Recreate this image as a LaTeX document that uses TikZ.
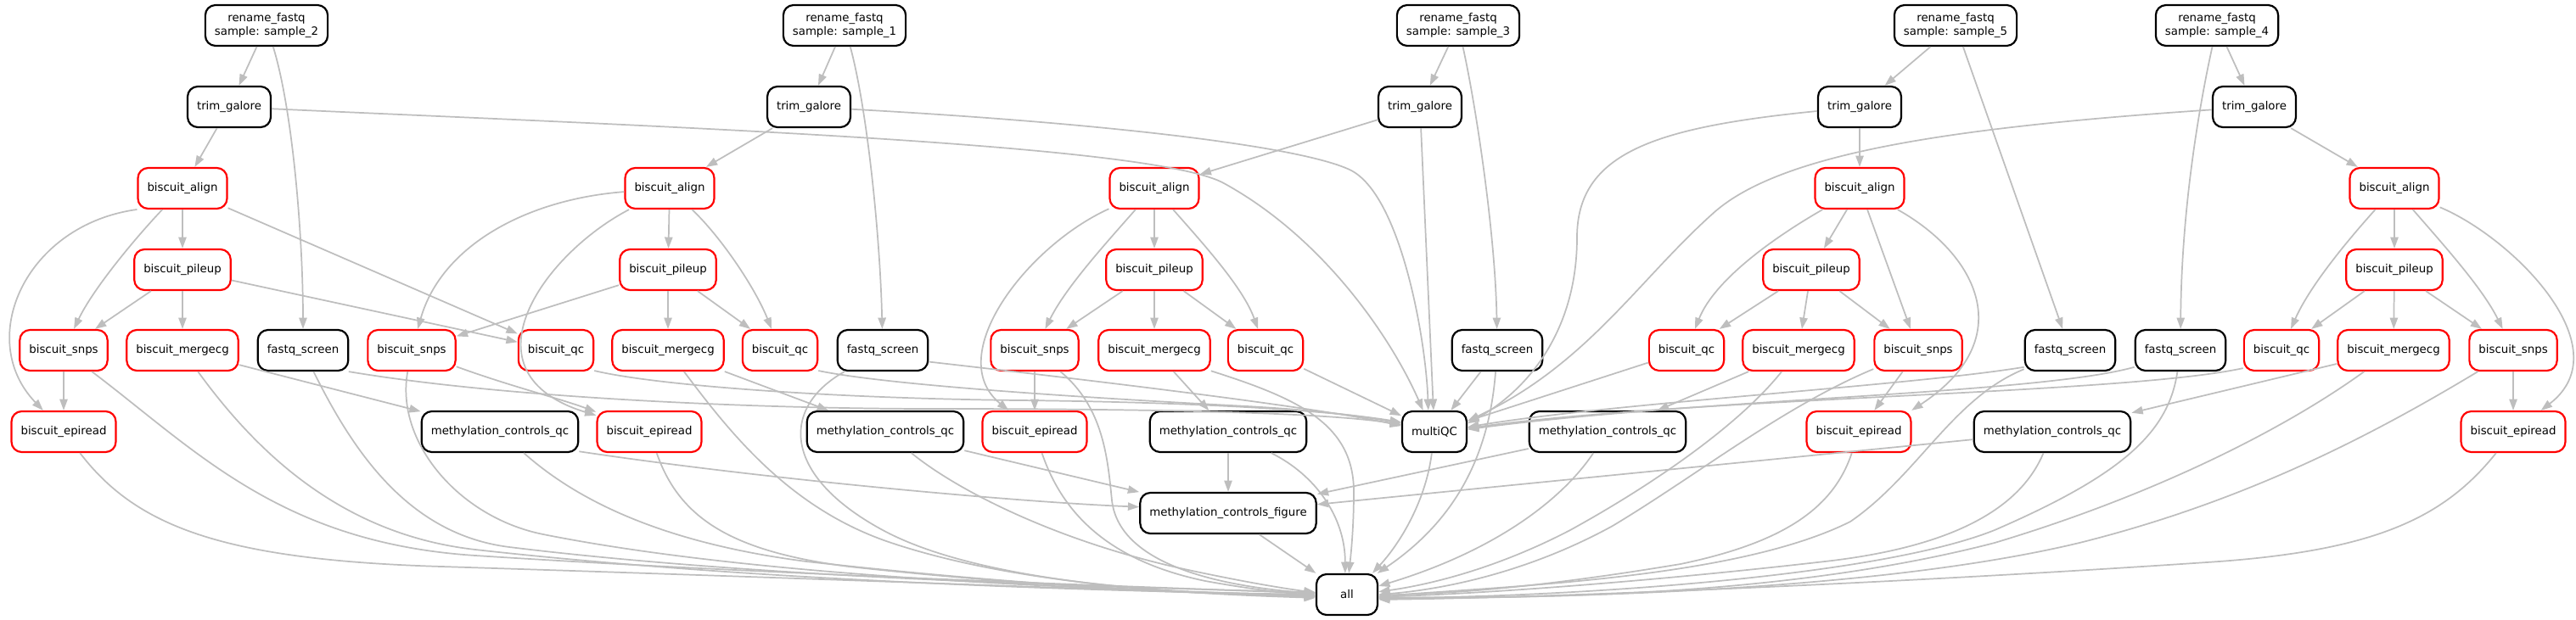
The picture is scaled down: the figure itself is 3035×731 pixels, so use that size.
\documentclass[tikz,border=0pt]{standalone}
\usepackage{fontspec}
\setmainfont{DejaVu Sans}
\usetikzlibrary{arrows.meta}
\definecolor{edgegray}{RGB}{190,190,190}
\begin{document}
\begin{tikzpicture}[x=0.75pt,y=-0.75pt,
  nd/.style={draw=black, line width=1.65pt, rounded corners=9pt, minimum height=36pt, minimum width=54pt, inner xsep=8.25pt, inner ysep=2pt, align=center, font=\fontsize{10pt}{12pt}\selectfont},
  rd/.style={nd, draw=red},
  edg/.style={draw=edgegray, line width=1.3pt, -{Triangle[length=10pt,width=7pt]}}]
\useasboundingbox (0,0) rectangle (3035,731);
% ---------- nodes: sample 2
\node[nd] (r2) at (314,30) {rename\_fastq\\sample: sample\_2};
\node[nd] (t2) at (270,126) {trim\_galore};
\node[rd] (a2) at (215,222) {biscuit\_align};
\node[rd] (p2) at (215,318) {biscuit\_pileup};
\node[rd] (sn2) at (75,413) {biscuit\_snps};
\node[rd] (m2) at (215,413) {biscuit\_mergecg};
\node[nd] (fs2) at (357,413) {fastq\_screen};
\node[rd] (q2) at (655,413) {biscuit\_qc};
\node[rd] (e2) at (75,509) {biscuit\_epiread};
\node[nd] (mc2) at (589,509) {methylation\_controls\_qc};
% sample 1
\node[nd] (r1) at (995,30) {rename\_fastq\\sample: sample\_1};
\node[nd] (t1) at (953,126) {trim\_galore};
\node[rd] (a1) at (789,222) {biscuit\_align};
\node[rd] (p1) at (787,318) {biscuit\_pileup};
\node[rd] (sn1) at (485,413) {biscuit\_snps};
\node[rd] (m1) at (787,413) {biscuit\_mergecg};
\node[rd] (q1) at (919,413) {biscuit\_qc};
\node[nd] (fs1) at (1040,413) {fastq\_screen};
\node[rd] (e1) at (765,509) {biscuit\_epiread};
\node[nd] (mc1) at (1043,509) {methylation\_controls\_qc};
% sample 3
\node[nd] (r3) at (1718,30) {rename\_fastq\\sample: sample\_3};
\node[nd] (t3) at (1673,126) {trim\_galore};
\node[rd] (a3) at (1360,222) {biscuit\_align};
\node[rd] (p3) at (1360,318) {biscuit\_pileup};
\node[rd] (sn3) at (1219,413) {biscuit\_snps};
\node[rd] (m3) at (1360,413) {biscuit\_mergecg};
\node[rd] (q3) at (1491,413) {biscuit\_qc};
\node[nd] (fs3) at (1764,413) {fastq\_screen};
\node[rd] (e3) at (1219,509) {biscuit\_epiread};
\node[nd] (mc3) at (1447,509) {methylation\_controls\_qc};
% shared
\node[nd] (mq) at (1690,509) {multiQC};
\node[nd] (fig) at (1447,605) {methylation\_controls\_figure};
\node[nd] (all) at (1587,701) {all};
% sample 5
\node[nd] (r5) at (2304,30) {rename\_fastq\\sample: sample\_5};
\node[nd] (t5) at (2191,126) {trim\_galore};
\node[rd] (a5) at (2191,222) {biscuit\_align};
\node[rd] (p5) at (2134,318) {biscuit\_pileup};
\node[rd] (q5) at (1987,413) {biscuit\_qc};
\node[rd] (m5) at (2119,413) {biscuit\_mergecg};
\node[rd] (sn5) at (2260,413) {biscuit\_snps};
\node[nd] (fs5) at (2439,413) {fastq\_screen};
\node[rd] (e5) at (2190,509) {biscuit\_epiread};
\node[nd] (mc5) at (1894,509) {methylation\_controls\_qc};
% sample 4
\node[nd] (r4) at (2612,30) {rename\_fastq\\sample: sample\_4};
\node[nd] (t4) at (2656,126) {trim\_galore};
\node[rd] (a4) at (2821,222) {biscuit\_align};
\node[rd] (p4) at (2821,318) {biscuit\_pileup};
\node[nd] (fs4) at (2569,413) {fastq\_screen};
\node[rd] (q4) at (2688,413) {biscuit\_qc};
\node[rd] (m4) at (2820,413) {biscuit\_mergecg};
\node[rd] (sn4) at (2961,413) {biscuit\_snps};
\node[rd] (e4) at (2961,509) {biscuit\_epiread};
\node[nd] (mc4) at (2418,509) {methylation\_controls\_qc};
% ---------- edges: sample 2
\draw[edg] (r2) -- (t2);
\draw[edg] (r2) .. controls (345,130) and (357,280) .. (fs2);
\draw[edg] (t2) -- (a2);
\draw[edg] (t2) .. controls (800,150) and (1350,170) .. (1440,215) .. controls (1560,280) and (1640,400) .. (mq.118);
\draw[edg] (a2) -- (p2);
\draw[edg] (a2) .. controls (160,280) and (110,340) .. (sn2);
\draw[edg] (a2.-155) .. controls (30,265) and (-30,400) .. (e2);
\draw[edg] (a2) -- (q2);
\draw[edg] (p2) -- (sn2);
\draw[edg] (p2) -- (m2);
\draw[edg] (p2) -- (q2);
\draw[edg] (sn2) -- (e2);
\draw[edg] (sn2) .. controls (230,530) and (330,640) .. (560,655) .. controls (900,677) and (1300,690) .. (all.178);
\draw[edg] (m2) -- (mc2);
\draw[edg] (m2) .. controls (300,530) and (400,630) .. (560,648) .. controls (900,686) and (1300,697) .. (all.180);
\draw[edg] (fs2) .. controls (415,530) and (480,630) .. (600,645) .. controls (900,682) and (1300,692) .. (all.176);
\draw[edg] (fs2.-25) .. controls (600,470) and (900,482) .. (1100,482) .. controls (1350,482) and (1560,486) .. (mq.168);
\draw[edg] (q2.-28) .. controls (780,456) and (1000,470) .. (1200,472) .. controls (1400,474) and (1560,483) .. (mq.164);
\draw[edg] (e2) .. controls (160,620) and (260,660) .. (520,668) .. controls (900,680) and (1300,695) .. (all.184);
\draw[edg] (mc2.-14) .. controls (900,565) and (1200,592) .. (fig.176);
\draw[edg] (mc2) .. controls (680,590) and (780,640) .. (950,662) .. controls (1200,690) and (1400,700) .. (all.182);
% sample 1
\draw[edg] (r1) -- (t1);
\draw[edg] (r1) .. controls (1022,130) and (1037,280) .. (fs1);
\draw[edg] (t1) -- (a1);
\draw[edg] (t1) .. controls (1300,145) and (1530,172) .. (1590,200) .. controls (1650,228) and (1680,400) .. (mq.106);
\draw[edg] (a1) -- (p1);
\draw[edg] (a1) .. controls (850,280) and (890,340) .. (q1);
\draw[edg] (a1) .. controls (620,235) and (520,290) .. (sn1);
\draw[edg] (a1) .. controls (640,300) and (540,440) .. (e1);
\draw[edg] (p1) -- (sn1);
\draw[edg] (p1) -- (m1);
\draw[edg] (p1) -- (q1);
\draw[edg] (sn1) .. controls (600,455) and (660,470) .. (e1);
\draw[edg] (sn1) .. controls (465,520) and (540,610) .. (640,630) .. controls (900,682) and (1300,695) .. (all.182);
\draw[edg] (m1) -- (mc1);
\draw[edg] (m1) .. controls (860,510) and (930,600) .. (1050,640) .. controls (1200,690) and (1400,700) .. (all.184);
\draw[edg] (q1.-28) .. controls (1050,455) and (1300,470) .. (1450,478) .. controls (1550,483) and (1600,490) .. (mq.166);
\draw[edg] (fs1.-14) .. controls (1300,450) and (1550,480) .. (mq.170);
\draw[edg] (fs1) .. controls (920,480) and (920,560) .. (1040,625) .. controls (1160,690) and (1400,700) .. (all.186);
\draw[edg] (e1) .. controls (800,610) and (860,650) .. (1000,668) .. controls (1200,690) and (1400,700) .. (all.180);
\draw[edg] (mc1) -- (fig);
\draw[edg] (mc1) .. controls (1130,580) and (1250,640) .. (1400,672) .. controls (1470,687) and (1520,695) .. (all.176);
% sample 3
\draw[edg] (r3) -- (t3);
\draw[edg] (r3) .. controls (1740,130) and (1762,280) .. (fs3);
\draw[edg] (t3) -- (a3);
\draw[edg] (t3) -- (mq);
\draw[edg] (a3) -- (p3);
\draw[edg] (a3) .. controls (1300,290) and (1255,340) .. (sn3);
\draw[edg] (a3) .. controls (1210,290) and (1110,420) .. (e3);
\draw[edg] (a3) .. controls (1420,290) and (1465,340) .. (q3);
\draw[edg] (p3) -- (sn3);
\draw[edg] (p3) -- (m3);
\draw[edg] (p3) -- (q3);
\draw[edg] (sn3) -- (e3);
\draw[edg] (sn3) .. controls (1300,480) and (1305,540) .. (1310,590) .. controls (1318,660) and (1420,690) .. (all.178);
\draw[edg] (m3) -- (mc3);
\draw[edg] (m3.-20) .. controls (1530,470) and (1595,500) .. (1595,580) .. controls (1595,620) and (1592,650) .. (all.85);
\draw[edg] (q3) -- (mq);
\draw[edg] (fs3) -- (mq);
\draw[edg] (fs3) .. controls (1755,530) and (1720,610) .. (all.35);
\draw[edg] (mq) .. controls (1680,590) and (1650,640) .. (all.40);
\draw[edg] (e3) .. controls (1250,600) and (1300,660) .. (1420,685) .. controls (1470,694) and (1510,699) .. (all.181);
\draw[edg] (mc3) -- (fig);
\draw[edg] (mc3) .. controls (1550,560) and (1585,610) .. (all.95);
\draw[edg] (fig) -- (all);
% sample 5
\draw[edg] (r5) -- (t5);
\draw[edg] (r5) -- (fs5);
\draw[edg] (t5) -- (a5);
\draw[edg] (t5) .. controls (1950,150) and (1858,180) .. (1858,280) .. controls (1858,390) and (1800,460) .. (mq.14);
\draw[edg] (a5) -- (p5);
\draw[edg] (a5) .. controls (2090,280) and (2020,330) .. (q5);
\draw[edg] (a5) -- (sn5);
\draw[edg] (a5) .. controls (2330,300) and (2380,400) .. (e5.22);
\draw[edg] (p5) -- (q5);
\draw[edg] (p5) -- (m5);
\draw[edg] (p5) -- (sn5);
\draw[edg] (q5) -- (mq);
\draw[edg] (m5) -- (mc5);
\draw[edg] (m5) .. controls (2050,500) and (1950,570) .. (1850,625) .. controls (1760,672) and (1680,690) .. (all.5);
\draw[edg] (sn5) -- (e5);
\draw[edg] (sn5) .. controls (2100,480) and (2000,560) .. (1900,620) .. controls (1800,675) and (1700,695) .. (all.0);
\draw[edg] (fs5.200) .. controls (2250,455) and (1900,475) .. (mq.8);
\draw[edg] (fs5) .. controls (2300,470) and (2260,560) .. (2180,615) .. controls (2050,680) and (1800,690) .. (all.-3);
\draw[edg] (e5) .. controls (2160,600) and (2100,640) .. (1980,665) .. controls (1800,695) and (1700,700) .. (all.-1);
\draw[edg] (mc5) -- (fig);
\draw[edg] (mc5) .. controls (1840,590) and (1760,650) .. (all.15);
% sample 4
\draw[edg] (r4) -- (t4);
\draw[edg] (r4) .. controls (2590,130) and (2570,250) .. (fs4);
\draw[edg] (t4) -- (a4);
\draw[edg] (t4) .. controls (2300,150) and (2100,180) .. (2020,250) .. controls (1930,330) and (1870,430) .. (mq.18);
\draw[edg] (a4) -- (p4);
\draw[edg] (a4) .. controls (2760,290) and (2720,340) .. (q4);
\draw[edg] (a4) .. controls (2880,290) and (2925,340) .. (sn4);
\draw[edg] (a4) .. controls (2960,280) and (3090,410) .. (e4);
\draw[edg] (p4) -- (q4);
\draw[edg] (p4) -- (m4);
\draw[edg] (p4) -- (sn4);
\draw[edg] (q4.205) .. controls (2500,465) and (2000,468) .. (mq.6);
\draw[edg] (m4) -- (mc4);
\draw[edg] (m4) .. controls (2700,500) and (2550,580) .. (2350,640) .. controls (2100,705) and (1800,705) .. (all.-5);
\draw[edg] (sn4) -- (e4);
\draw[edg] (sn4) .. controls (2800,510) and (2650,590) .. (2450,640) .. controls (2200,700) and (1800,705) .. (all.-7);
\draw[edg] (e4) .. controls (2880,610) and (2800,650) .. (2600,663) .. controls (2200,690) and (1800,705) .. (all.-9);
\draw[edg] (fs4.200) .. controls (2400,465) and (2000,470) .. (mq.4);
\draw[edg] (fs4) .. controls (2555,510) and (2500,560) .. (2350,625) .. controls (2200,685) and (1800,705) .. (all.-6);
\draw[edg] (mc4) -- (fig);
\draw[edg] (mc4) .. controls (2380,600) and (2300,645) .. (2150,662) .. controls (1950,685) and (1750,700) .. (all.-4);
\end{tikzpicture}
\end{document}
